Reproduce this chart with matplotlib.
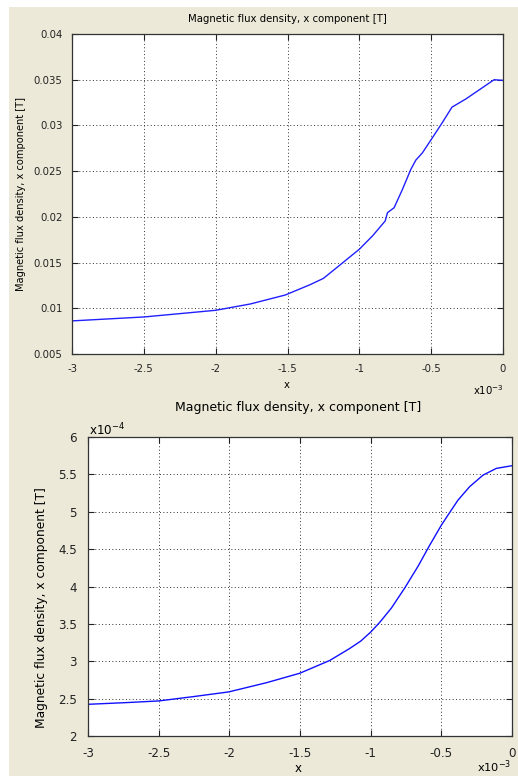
import matplotlib
matplotlib.use("Agg")
import matplotlib.pyplot as plt
from matplotlib.patches import Rectangle
from matplotlib.ticker import FuncFormatter

# top plot: Bx along x (x in 1e-3 m, B in T)
x_top = [-3.0, -2.5, -2.0, -1.759, -1.516, -1.343, -1.25, -1.136, -1.0, -0.908, -0.820,
         -0.804, -0.758, -0.700, -0.642, -0.607, -0.561, -0.5, -0.431, -0.355, -0.258,
         -0.062, 0.0]
b_top = [0.00862, 0.00905, 0.00978, 0.01047, 0.01145, 0.01258, 0.01327, 0.01472, 0.01646,
         0.01792, 0.01955, 0.02046, 0.0210, 0.0230, 0.02518, 0.0262, 0.0270, 0.02845,
         0.0301, 0.0320, 0.0329, 0.0350, 0.03493]

# bottom plot: Bx along x (x in 1e-3 m, B in 1e-4 T)
x_bot = [-3.0, -2.726, -2.5, -2.254, -2.004, -1.735, -1.501, -1.29, -1.149, -1.07, -1.0,
         -0.936, -0.854, -0.759, -0.665, -0.583, -0.5, -0.453, -0.382, -0.300, -0.205,
         -0.111, 0.0]
b_bot = [2.424, 2.447, 2.469, 2.527, 2.59, 2.714, 2.84, 3.01, 3.17, 3.27, 3.39, 3.52,
         3.71, 3.98, 4.27, 4.55, 4.82, 4.955, 5.156, 5.335, 5.49, 5.58, 5.616]

xticks = [-3, -2.5, -2, -1.5, -1, -0.5, 0]
yticks_top = [0.005, 0.01, 0.015, 0.02, 0.025, 0.03, 0.035, 0.04]
yticks_bot = [2, 2.5, 3, 3.5, 4, 4.5, 5, 5.5, 6]
TITLE = "Magnetic flux density, x component [T]"

W, H = 518, 776
BEIGE = "#ECE9D8"
plt.rcParams.update({"font.family": ["DejaVu Sans"], "axes.unicode_minus": False})
fig = plt.figure(figsize=(W/100, H/100), dpi=100, facecolor="white")
fig.patches.append(Rectangle((9/W, 0), 1-9/W, 1-7/H, transform=fig.transFigure,
                             facecolor=BEIGE, edgecolor="none", zorder=-10))

def rect(l, t, r, b): return [l/W, 1-b/H, (r-l)/W, (b-t)/H]
def px(x, y): return x/W, 1-y/H
fmt = FuncFormatter(lambda v, p: f"{v:g}")

def setup(ax, yt, fs, pad):
    ax.set_facecolor("white")
    ax.set_xlim(-3, 0); ax.set_xticks(xticks); ax.set_yticks(yt); ax.set_ylim(yt[0], yt[-1])
    ax.xaxis.set_major_formatter(fmt); ax.yaxis.set_major_formatter(fmt)
    ax.tick_params(direction="in", length=4, width=0.8, top=True, right=True,
                   labelsize=fs, pad=pad, colors="#222222")
    ax.grid(True, ls=(0, (1, 2.5)), color="#333333", lw=0.7)
    for s in ax.spines.values(): s.set_linewidth(0.9); s.set_color("#333333")

# top
ax1 = fig.add_axes(rect(72, 34, 503, 354))
ax1.plot(x_top, b_top, color="#2020ff", lw=1.0)
setup(ax1, yticks_top, 7.3, 7)
fig.text(*px(287, 19), TITLE, ha="center", va="center", fontsize=7.3)
fig.text(*px(21, 194), TITLE, ha="center", va="center", rotation=90, fontsize=7.1)
fig.text(*px(287, 385), "x", ha="center", va="center", fontsize=7.3)
fig.text(*px(488, 390), r"x10$^{-3}$", ha="center", va="center", fontsize=7.3)

# bottom
ax2 = fig.add_axes(rect(88, 437, 512, 736))
ax2.plot(x_bot, b_bot, color="#1010ff", lw=1.0)
setup(ax2, yticks_bot, 8.6, 8)
fig.text(*px(298, 407), TITLE, ha="center", va="center", fontsize=9)
fig.text(*px(42, 608), TITLE, ha="center", va="center", rotation=90, fontsize=8.8)
fig.text(*px(298, 769), "x", ha="center", va="center", fontsize=8.6)
fig.text(*px(107, 430), r"x10$^{-4}$", ha="center", va="center", fontsize=8.6)
fig.text(*px(494, 767), r"x10$^{-3}$", ha="center", va="center", fontsize=8.2)

fig.savefig("out.png", dpi=100, facecolor="white")
